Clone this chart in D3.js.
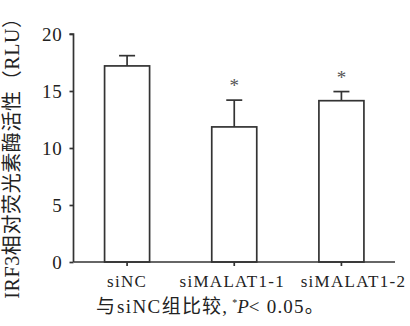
<!DOCTYPE html>
<html>
<head>
<meta charset="utf-8">
<script src="https://cdn.jsdelivr.net/npm/d3@7"></script>
<style>
  body { margin: 0; background: #fff; }
  text { font-family: "Liberation Serif", "Noto Sans CJK SC", serif; fill: #222; }
</style>
</head>
<body>
<div id="chart"></div>
<script>
// values
const groups = ["siNC", "siMALAT1-1", "siMALAT1-2"];
const means = [17.2, 11.85, 14.15];
const sds = [0.9, 2.35, 0.8];
const marks = ["", "*", "*"];
const yTicks = [0, 5, 10, 15, 20];

const w = 410;
const h = 326;
const padL = 73.5, padR = 395, padT = 34, padB = 262;
const ink = "#333";

const svg = d3.select("#chart")
  .append("svg")
  .attr("width", w)
  .attr("height", h);

const xScale = d3.scaleBand()
  .domain(groups)
  .range([padL, padR])
  .paddingInner(0.58)
  .paddingOuter(0.29);

const yScale = d3.scaleLinear()
  .domain([0, 20])
  .range([padB, padT]);

const data = groups.map((g, i) => ({ g: g, m: means[i], sd: sds[i], mark: marks[i] }));

// bars
svg.selectAll("rect.bar")
  .data(data)
  .enter()
  .append("rect")
  .attr("class", "bar")
  .attr("x", d => xScale(d.g))
  .attr("y", d => yScale(d.m))
  .attr("width", xScale.bandwidth())
  .attr("height", d => yScale(0) - yScale(d.m))
  .attr("fill", "#fff")
  .attr("stroke", ink)
  .attr("stroke-width", 1.7);

// error bars (upper only)
const cx = d => xScale(d.g) + xScale.bandwidth() / 2;
svg.selectAll("line.err")
  .data(data)
  .enter()
  .append("line")
  .attr("x1", cx).attr("x2", cx)
  .attr("y1", d => yScale(d.m))
  .attr("y2", d => yScale(d.m + d.sd))
  .attr("stroke", ink)
  .attr("stroke-width", 1.7);

svg.selectAll("line.cap")
  .data(data)
  .enter()
  .append("line")
  .attr("x1", d => cx(d) - 8).attr("x2", d => cx(d) + 8)
  .attr("y1", d => yScale(d.m + d.sd))
  .attr("y2", d => yScale(d.m + d.sd))
  .attr("stroke", ink)
  .attr("stroke-width", 1.7);

// significance stars
svg.selectAll("text.star")
  .data(data)
  .enter()
  .append("text")
  .attr("x", cx)
  .attr("y", d => yScale(d.m + d.sd) - 8)
  .attr("text-anchor", "middle")
  .style("font-size", "19px")
  .style("fill", "#555")
  .text(d => d.mark);

// axes
const yAxis = d3.axisLeft(yScale).tickValues(yTicks).tickSize(4).tickPadding(7);
const gy = svg.append("g")
  .attr("transform", "translate(" + padL + ",0)")
  .call(yAxis);
gy.select(".domain").attr("d", "M-4," + padT + "H0V" + padB);
gy.selectAll("path, line").attr("stroke", ink).attr("stroke-width", 1.7);
gy.selectAll("text")
  .style("font-size", "19px")
  .style("font-family", "Liberation Serif")
  .attr("letter-spacing", "0.8px");

const xAxis = d3.axisBottom(xScale).tickSize(4).tickPadding(9);
const gx = svg.append("g")
  .attr("transform", "translate(0," + padB + ")")
  .call(xAxis);
gx.select(".domain").attr("d", "M" + padL + ",0H" + padR);
gx.selectAll("path, line").attr("stroke", ink).attr("stroke-width", 1.7);
// labels in the figure sit a little off their ticks
const labelShift = [0, -2, 12];
gx.selectAll("text")
  .style("font-size", "17px")
  .style("font-family", "Liberation Serif")
  .attr("letter-spacing", "1.3px")
  .attr("dx", (d, i) => labelShift[i]);

// y axis title
svg.append("text")
  .attr("transform", "translate(19," + 153 + ") rotate(-90)")
  .attr("text-anchor", "middle")
  .style("font-size", "20px")
  .attr("letter-spacing", "0.6px")
  .text("IRF3相对荧光素酶活性（RLU）");

// caption
const cap = svg.append("text")
  .attr("x", 96)
  .attr("y", 313)
  .style("font-size", "19px");
cap.append("tspan").text("与");
cap.append("tspan").attr("dx", 2).attr("letter-spacing", "1.4px").text("siNC");
cap.append("tspan").attr("letter-spacing", "1.2px").text("组比较,");
cap.append("tspan").attr("dx", 4).attr("dy", -7).style("font-size", "10px").text("*");
cap.append("tspan").attr("dy", 7).style("font-style", "italic").text("P");
cap.append("tspan").attr("letter-spacing", "1.2px").text("< 0.05。");
</script>
</body>
</html>
